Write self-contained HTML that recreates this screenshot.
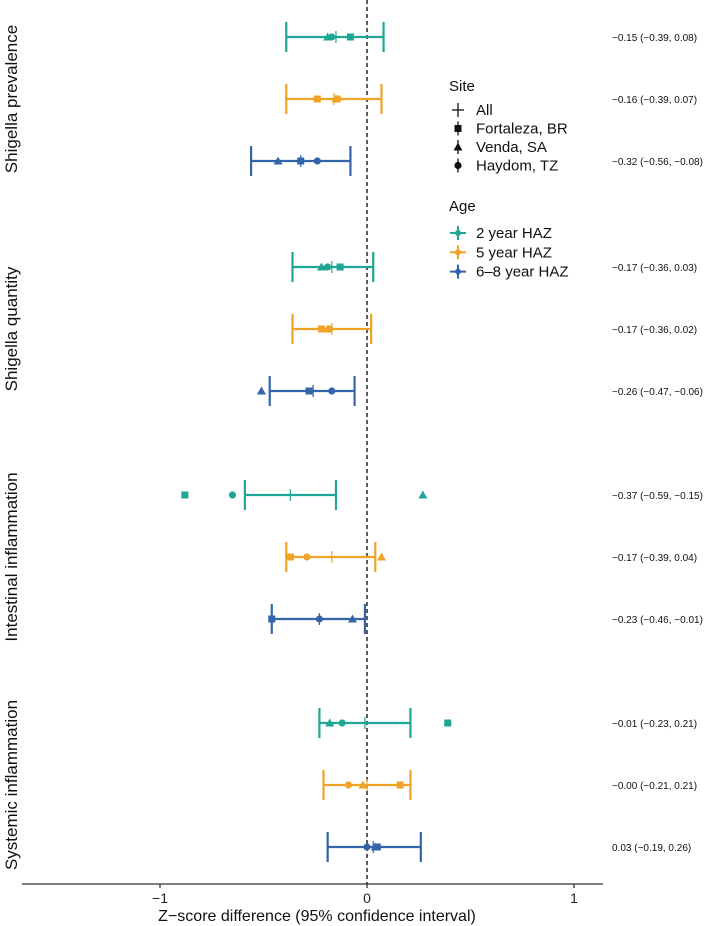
<!DOCTYPE html>
<html><head><meta charset="utf-8">
<style>
html,body{margin:0;padding:0;background:#fff;}
svg{display:block;font-family:"Liberation Sans",Arial,sans-serif;}
</style></head>
<body>
<svg id="chart" width="719" height="926" viewBox="0 0 719 926" xmlns="http://www.w3.org/2000/svg"></svg>
<script>
const outcomes = ["Shigella prevalence","Shigella quantity","Intestinal inflammation","Systemic inflammation"];
const ages = ["2 year HAZ","5 year HAZ","6–8 year HAZ"];
const colors = ["#1fa694","#f0a326","#3465ab"];
const sites = ["All","Fortaleza, BR","Venda, SA","Haydom, TZ"];
// per outcome, per age: [est, lo, hi]
const allEst = [[-0.15,-0.16,-0.32],[-0.17,-0.17,-0.26],[-0.37,-0.17,-0.23],[-0.01,0.00,0.03]];
const allLo  = [[-0.39,-0.39,-0.56],[-0.36,-0.36,-0.47],[-0.59,-0.39,-0.46],[-0.23,-0.21,-0.19]];
const allHi  = [[0.08,0.07,-0.08],[0.03,0.02,-0.06],[-0.15,0.04,-0.01],[0.21,0.21,0.26]];
const fortaleza = [[-0.08,-0.24,-0.32],[-0.13,-0.22,-0.28],[-0.88,-0.37,-0.46],[0.39,0.16,0.05]];
const venda     = [[-0.19,-0.15,-0.43],[-0.22,-0.19,-0.51],[0.27,0.07,-0.07],[-0.18,-0.02,0.04]];
const haydom    = [[-0.17,-0.14,-0.24],[-0.19,-0.18,-0.17],[-0.65,-0.29,-0.23],[-0.12,-0.09,0.00]];
const labels = [["−0.15 (−0.39, 0.08)","−0.16 (−0.39, 0.07)","−0.32 (−0.56, −0.08)"],
                ["−0.17 (−0.36, 0.03)","−0.17 (−0.36, 0.02)","−0.26 (−0.47, −0.06)"],
                ["−0.37 (−0.59, −0.15)","−0.17 (−0.39, 0.04)","−0.23 (−0.46, −0.01)"],
                ["−0.01 (−0.23, 0.21)","−0.00 (−0.21, 0.21)","0.03 (−0.19, 0.26)"]];
const xTicks = [-1,0,1];

const NS="http://www.w3.org/2000/svg";
const svg=document.getElementById('chart');
function x(v){return 367+v*207;}
const groupTop=[37,267,495,723], rowGap=62;
function y(g,a){return groupTop[g]+a*rowGap;}
function el(t,attrs,parent){const e=document.createElementNS(NS,t);for(const k in attrs)e.setAttribute(k,attrs[k]);(parent||svg).appendChild(e);return e;}
function marker(shape,cx,cy,col,parent){
  let m;
  if(shape===0){m=el('path',{d:`M${cx} ${cy-6}V${cy+6}`,stroke:col,'stroke-width':1.2,fill:'none'},parent);}
  else if(shape===1){m=el('rect',{x:cx-3.5,y:cy-3.5,width:7,height:7,fill:col},parent);}
  else if(shape===2){m=el('path',{d:`M${cx} ${cy-4.5}L${cx+4.5} ${cy+3.5}L${cx-4.5} ${cy+3.5}Z`,fill:col},parent);}
  else {m=el('circle',{cx:cx,cy:cy,r:3.6,fill:col},parent);}
  return m;
}
// zero line
const zl=el('line',{x1:x(0),x2:x(0),y1:0,y2:884,stroke:'#222','stroke-width':1.5,'stroke-dasharray':'4,3'});


// axis
const ax=el('line',{x1:22,x2:603,y1:884,y2:884,stroke:'#333','stroke-width':1.3});


xTicks.forEach(t=>{
  const tk=el('line',{x1:x(t),x2:x(t),y1:884,y2:888,stroke:'#333','stroke-width':1.3});
  
  
  const tl=el('text',{x:x(t),y:903,'text-anchor':'middle','font-size':14,fill:'#222'});
  tl.textContent=t<0?'−'+Math.abs(t):String(t);
  
  
});
const xt=el('text',{x:317,y:921,'text-anchor':'middle','font-size':16,fill:'#111'});
xt.textContent='Z−score difference (95% confidence interval)';



const siteData=[fortaleza,venda,haydom];
outcomes.forEach((o,g)=>{
  const ft=el('text',{x:0,y:0,'text-anchor':'middle','font-size':17,fill:'#111',transform:`translate(17,${groupTop[g]+62}) rotate(-90)`});
  ft.textContent=o;
  
  
  ages.forEach((a,i)=>{
    const yy=y(g,i), c=colors[i];
    const grp=el('g',{});
    
    
    el('line',{x1:x(allLo[g][i]),x2:x(allHi[g][i]),y1:yy,y2:yy,stroke:c,'stroke-width':2.2},grp);
    el('line',{x1:x(allLo[g][i]),x2:x(allLo[g][i]),y1:yy-15,y2:yy+15,stroke:c,'stroke-width':2.2},grp);
    el('line',{x1:x(allHi[g][i]),x2:x(allHi[g][i]),y1:yy-15,y2:yy+15,stroke:c,'stroke-width':2.2},grp);
    marker(0,x(allEst[g][i]),yy,c,grp);
    siteData.forEach((sd,s)=>{
      const m=marker(s+1,x(sd[g][i]),yy,c,grp);
      
      
    });
    const lt=el('text',{x:612,y:yy+4,'font-size':10,fill:'#111'});
    lt.textContent=labels[g][i];
    
    
  });
});
// legend
const lg=el('g',{});


const st=el('text',{x:449,y:91,'font-size':15,fill:'#111'},lg);st.textContent='Site';
sites.forEach((s,i)=>{
  const yy=110+i*18.5;
  const e=el('g',{},lg);
  
  
  el('line',{x1:458,x2:458,y1:yy-7,y2:yy+7,stroke:'#111','stroke-width':1.3},e);
  if(i===0) el('line',{x1:452,x2:464,y1:yy,y2:yy,stroke:'#111','stroke-width':1.3},e);
  else marker(i,458,yy,'#111',e);
  const t=el('text',{x:476,y:yy+5,'font-size':15,fill:'#111'},e);t.textContent=s;
});
const at=el('text',{x:449,y:211,'font-size':15,fill:'#111'},lg);at.textContent='Age';
ages.forEach((a,i)=>{
  const yy=233+i*19.3;
  const e=el('g',{},lg);
  
  
  el('line',{x1:450,x2:466,y1:yy,y2:yy,stroke:colors[i],'stroke-width':2},e);
  el('line',{x1:458,x2:458,y1:yy-7,y2:yy+7,stroke:colors[i],'stroke-width':2},e);
  el('path',{d:`M458 ${yy-4}L462 ${yy}L458 ${yy+4}L454 ${yy}Z`,fill:colors[i]},e);
  const t=el('text',{x:476,y:yy+5,'font-size':15,fill:'#111'},e);t.textContent=a;
});
</script>
</body></html>
